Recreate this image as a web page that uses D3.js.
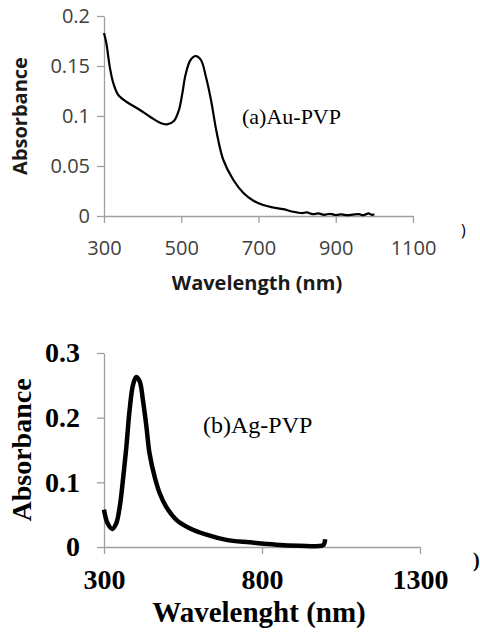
<!DOCTYPE html>
<html>
  <head>
    <meta charset="utf-8">
    <style>
      body { margin: 0; background: #fff; }
    </style>
  </head>
  <body>
    <script src="https://cdn.jsdelivr.net/npm/d3@7"></script>
    <script>
      // (a) Au-PVP spectrum
      var auWave = [300, 306, 315, 324, 337, 359, 376, 393, 420, 446, 463, 481,
                    494, 503, 511, 524, 538, 551, 564, 577, 592, 609, 635, 661,
                    686, 712, 738, 764, 790, 800, 813, 825, 840, 855, 870,
                    885, 900, 915, 930, 945, 960, 972, 985, 993, 1000];
      var auAbs = [0.183, 0.173, 0.149, 0.133, 0.121, 0.114, 0.110, 0.106, 0.099,
                   0.093, 0.0917, 0.095, 0.106, 0.123, 0.141, 0.156, 0.160, 0.156,
                   0.139, 0.116, 0.083, 0.056, 0.036, 0.023, 0.0155, 0.011, 0.0085,
                   0.0068, 0.0042, 0.0035, 0.0028, 0.0036, 0.0018, 0.0026,
                   0.0012, 0.0022, 0.0010, 0.0016, 0.0008, 0.0014, 0.0018, 0.0008,
                   0.0026, 0.0012, 0.0018];
      var auTicksX = [300, 500, 700, 900, 1100];
      var auTicksY = [0, 0.05, 0.1, 0.15, 0.2];

      // (b) Ag-PVP spectrum
      var agWave = [300, 311, 326, 339, 350, 360, 371, 381, 392, 402, 413, 423,
                    434, 444, 460, 476, 497, 529, 571, 624, 687, 761, 845, 919, 990, 996, 1000];
      var agAbs = [0.0577, 0.037, 0.028, 0.037, 0.063, 0.104, 0.156, 0.212, 0.251,
                   0.263, 0.256, 0.228, 0.187, 0.145, 0.109, 0.0835, 0.062, 0.042,
                   0.029, 0.019, 0.011, 0.0072, 0.0036, 0.002, 0.002, 0.004, 0.012];
      var agTicksX = [300, 800, 1300];
      var agTicksY = [0, 0.1, 0.2, 0.3];

      var svg = d3.select('body')
                  .append('svg')
                  .attr('width', 480)
                  .attr('height', 637);

      // ---------- chart (a) ----------
      var xa = d3.scaleLinear().domain([300, 1100]).range([104, 413]);
      var ya = d3.scaleLinear().domain([0, 0.2]).range([216, 16]);
      var sansFont = "'Open Sans', sans-serif";

      var axA = svg.append('g')
                   .attr('transform', 'translate(0,216)')
                   .call(d3.axisBottom(xa).tickValues(auTicksX).tickSize(7).tickSizeOuter(0)
                         .tickFormat(function (d) { return String(d); }));
      axA.selectAll('text').attr('y', 39).attr('dy', 0);

      var ayA = svg.append('g')
                   .attr('transform', 'translate(104,0)')
                   .call(d3.axisLeft(ya).tickValues(auTicksY).tickSize(7).tickPadding(7)
                         .tickSizeOuter(0).tickFormat(function (d) { return String(+d.toFixed(2)); }));

      [axA, ayA].forEach(function (g) {
        g.selectAll('path, line').attr('stroke', '#a0a0a0').attr('stroke-width', 1.3);
        g.selectAll('text')
         .style('font', '20px ' + sansFont)
         .attr('fill', '#404040');
      });

      var lineA = d3.line()
                    .x(function (d, i) { return xa(auWave[i]); })
                    .y(function (d) { return ya(d); })
                    .curve(d3.curveCatmullRom.alpha(0.5));

      svg.append('path')
         .datum(auAbs)
         .attr('d', lineA)
         .attr('fill', 'none')
         .attr('stroke', '#000')
         .attr('stroke-width', 2.2);

      svg.append('text')
         .text('Absorbance')
         .attr('transform', 'translate(27,116) rotate(-90)')
         .attr('text-anchor', 'middle')
         .style('font', 'bold 20px ' + sansFont)
         .attr('fill', '#1a1a1a');

      svg.append('text')
         .text('Wavelength (nm)')
         .attr('x', 257).attr('y', 290)
         .attr('text-anchor', 'middle')
         .style('font', 'bold 20px ' + sansFont)
         .attr('fill', '#1a1a1a');

      svg.append('text')
         .text('(a)Au-PVP')
         .attr('x', 242).attr('y', 124)
         .style('font', "22px 'Liberation Serif', serif")
         .attr('fill', '#000');

      svg.append('text')
         .text(')')
         .attr('x', 461).attr('y', 236)
         .style('font', '16px ' + sansFont)
         .attr('fill', '#000');

      // ---------- chart (b) ----------
      var xb = d3.scaleLinear().domain([300, 1300]).range([104, 420]);
      var yb = d3.scaleLinear().domain([0, 0.3]).range([547, 353]);
      var serifFont = "'Liberation Serif', 'Times New Roman', serif";

      var axB = svg.append('g')
                   .attr('transform', 'translate(0,547)')
                   .call(d3.axisBottom(xb).tickValues(agTicksX).tickSize(7).tickSizeOuter(0)
                         .tickFormat(function (d) { return String(d); }));
      axB.selectAll('text').attr('y', 42).attr('dy', 0);

      var ayB = svg.append('g')
                   .attr('transform', 'translate(104,0)')
                   .call(d3.axisLeft(yb).tickValues(agTicksY).tickSize(7).tickPadding(17)
                         .tickSizeOuter(0).tickFormat(function (d) { return String(+d.toFixed(1)); }));

      [axB, ayB].forEach(function (g) {
        g.selectAll('path, line').attr('stroke', '#a0a0a0').attr('stroke-width', 1.3);
        g.selectAll('text')
         .style('font', 'bold 28px ' + serifFont)
         .attr('fill', '#000');
      });

      var lineB = d3.line()
                    .x(function (d, i) { return xb(agWave[i]); })
                    .y(function (d) { return yb(d); })
                    .curve(d3.curveCatmullRom.alpha(0.5));

      svg.append('path')
         .datum(agAbs)
         .attr('d', lineB)
         .attr('fill', 'none')
         .attr('stroke', '#000')
         .attr('stroke-width', 4.5);

      svg.append('text')
         .text('Absorbance')
         .attr('transform', 'translate(31,450) rotate(-90)')
         .attr('text-anchor', 'middle')
         .style('font', 'bold 28px ' + serifFont)
         .attr('fill', '#000');

      svg.append('text')
         .text('Wavelenght (nm)')
         .attr('x', 259).attr('y', 622)
         .attr('text-anchor', 'middle')
         .style('font', 'bold 29px ' + serifFont)
         .attr('fill', '#000');

      svg.append('text')
         .text('(b)Ag-PVP')
         .attr('x', 203).attr('y', 433)
         .style('font', '24px ' + serifFont)
         .attr('fill', '#000');

      svg.append('text')
         .text(')')
         .attr('x', 473).attr('y', 567)
         .style('font', 'bold 20px ' + serifFont)
         .attr('fill', '#000');
    </script>
  </body>
</html>
